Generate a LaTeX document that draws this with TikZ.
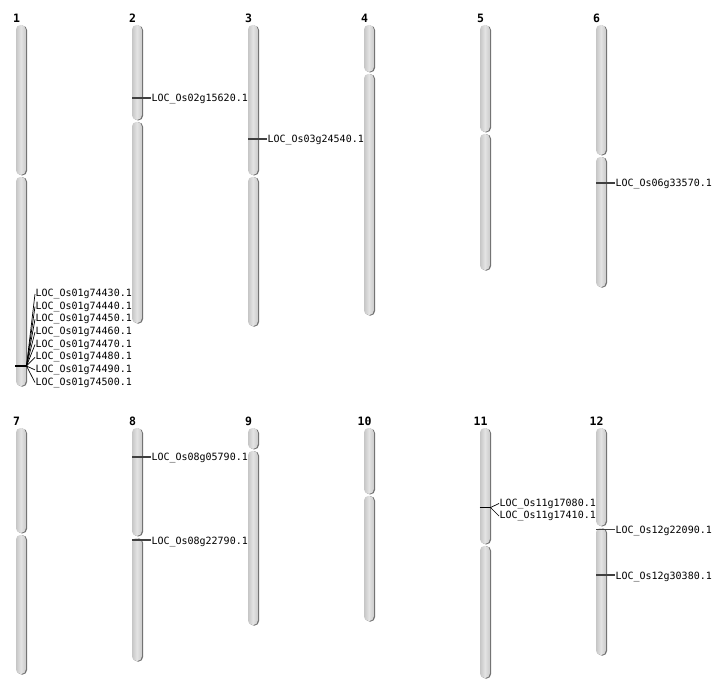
\documentclass[tikz,border=0pt]{standalone}
\usepackage{fontspec}
\setmonofont{DejaVu Sans Mono}
\begin{document}
\begin{tikzpicture}[x=1bp,y=-1bp,
  armfill/.style={left color=gray!45, right color=gray!40, middle color=gray!22, draw=none},
  armshadow/.style={fill=black!55, draw=none},
  lbl/.style={anchor=west, inner sep=0.5bp, outer sep=0pt, font=\ttfamily\fontsize{10bp}{12bp}\selectfont},
  num/.style={anchor=base, inner sep=0pt, font=\ttfamily\bfseries\fontsize{11.5bp}{13bp}\selectfont},
  tickline/.style={draw=black!75, line width=1.1bp},
  boldtick/.style={draw=black, line width=1.9bp},
  fanline/.style={draw=black, line width=0.7bp}]
\useasboundingbox (0,0) rectangle (712,700);
\fill[white] (0,0) rectangle (712,700);
% #1 name #2 x #3 top #4 centromere #5 bottom #6 number baseline
\newcommand\chromo[6]{%
  \path[armshadow, rounded corners=4.5bp] (#2+1.3,#3+0.6) rectangle (#2+11.0,#4-0.6);
  \path[armshadow, rounded corners=4.5bp] (#2+1.3,#4+1.2) rectangle (#2+11.0,#5+0.6);
  \path[armfill, rounded corners=4.5bp] (#2,#3) rectangle (#2+9.8,#4-1.2);
  \path[armfill, rounded corners=4.5bp] (#2,#4+0.9) rectangle (#2+9.8,#5);
  \node[num] (n#1) at (#2+0.5,#6) {#1};
}
\chromo{1}{16}{25}{176}{386}{22.5}
\chromo{2}{132}{25}{121}{323}{22.5}
\chromo{3}{248}{25}{176}{326}{22.5}
\chromo{4}{364}{25}{73}{315}{22.5}
\chromo{5}{480}{25}{133}{270}{22.5}
\chromo{6}{596}{25}{156}{287}{22.5}
\chromo{7}{16}{428}{534}{674}{425.5}
\chromo{8}{132}{428}{537}{661}{425.5}
\chromo{9}{248}{428}{450}{625}{425.5}
\chromo{10}{364}{428}{495}{621}{425.5}
\chromo{11}{480}{428}{545}{678}{425.5}
\chromo{12}{596}{428}{527}{655}{425.5}
% single markers
\coordinate (m2) at (132,98);
\node[lbl] (l2) at (151,99) {LOC\_Os02g15620.1};
\draw[tickline] (m2) -- (l2.west |- m2);
\coordinate (m3) at (248,139);
\node[lbl] (l3) at (267,140) {LOC\_Os03g24540.1};
\draw[tickline] (m3) -- (l3.west |- m3);
\coordinate (m6) at (596,183);
\node[lbl] (l6) at (615,184) {LOC\_Os06g33570.1};
\draw[tickline] (m6) -- (l6.west |- m6);
\coordinate (m8a) at (132,457);
\node[lbl] (l8a) at (151,458) {LOC\_Os08g05790.1};
\draw[tickline] (m8a) -- (l8a.west |- m8a);
\coordinate (m8b) at (132,540);
\node[lbl] (l8b) at (151,541.5) {LOC\_Os08g22790.1};
\draw[tickline] (m8b) -- (l8b.west |- m8b);
\coordinate (m12a) at (596,529.5);
\node[lbl] (l12a) at (615,531) {LOC\_Os12g22090.1};
\draw[tickline] (m12a) -- (l12a.west |- m12a);
\coordinate (m12b) at (596,575);
\node[lbl] (l12b) at (615,576.5) {LOC\_Os12g30380.1};
\draw[tickline] (m12b) -- (l12b.west |- m12b);
% chromosome 1 cluster
\coordinate (t1a) at (15,366);
\coordinate (t1b) at (26.5,366);
\draw[boldtick] (t1a) -- (t1b);
\foreach \i/\g in {0/74430,1/74440,2/74450,3/74460,4/74470,5/74480,6/74490,7/74500}{
  \node[lbl] (l1\i) at (35,294+12.65*\i) {LOC\_Os01g\g.1};
  \draw[fanline] (t1b) -- (l1\i.west);
}
% chromosome 11 cluster
\coordinate (t11a) at (479.5,507.5);
\coordinate (t11b) at (490.5,507.5);
\draw[boldtick] (t11a) -- (t11b);
\node[lbl] (l11a) at (499,503.5) {LOC\_Os11g17080.1};
\node[lbl] (l11b) at (499,516) {LOC\_Os11g17410.1};
\draw[fanline] (t11b) -- (l11a.west);
\draw[fanline] (t11b) -- (l11b.west);
\end{tikzpicture}
\end{document}
